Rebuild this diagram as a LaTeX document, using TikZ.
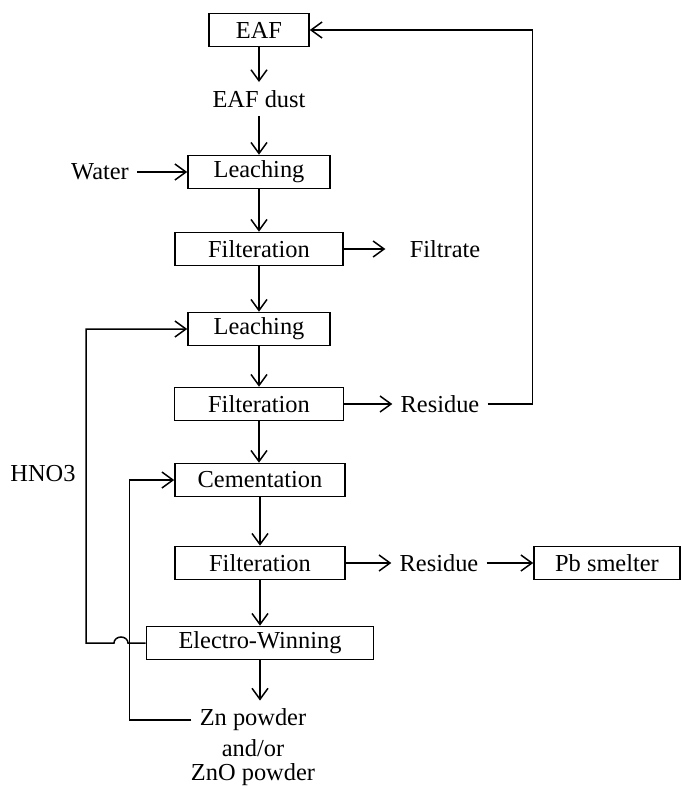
\documentclass[tikz,border=0pt]{standalone}
\usepackage{fontspec}
\setmainfont{Liberation Serif}
\usetikzlibrary{arrows.meta}

\tikzset{
  unit/.style={draw, line width=0.8pt, inner sep=0pt, minimum height=16.5pt},
  lbl/.style={inner sep=4pt},
  flow/.style={line width=0.75pt, -{Straight Barb[length=5.5pt,width=8pt]}}
}

\begin{document}
\begin{tikzpicture}[x=0.5pt,y=-0.5pt,font=\fontsize{12.2}{14}\selectfont]
\useasboundingbox (0,0) rectangle (681,789);

\node[unit,minimum width=50pt] (eaf) at (259,30) {EAF};
\node[lbl] (dust) at (259,99) {EAF dust};
\node[unit,minimum width=71pt] (leach1) at (259,172) {Leaching};
\node[lbl] (water) at (100,172) {Water};
\node[unit,minimum width=84pt] (filt1) at (259,249) {Filteration};
\node[lbl] (filtrate) at (445,249) {Filtrate};
\node[unit,minimum width=71pt] (leach2) at (259,329) {Leaching};
\node[unit,minimum width=84.5pt] (filt2) at (259,404) {Filteration};
\node[lbl] (res1) at (440,404) {Residue};
\node[lbl] (hno) at (43,474) {HNO3};
\node[unit,minimum width=85pt] (cem) at (260,480) {Cementation};
\node[unit,minimum width=85pt] (filt3) at (260,563) {Filteration};
\node[lbl] (res2) at (439,563) {Residue};
\node[unit,minimum width=73pt] (pb) at (607,563) {Pb smelter};
\node[unit,minimum width=113.5pt] (ew) at (260,643) {Electro-Winning};
\node[lbl] (zn) at (253,720) {Zn powder};
\node[lbl] (andor) at (253,748) {and/or};
\node[lbl] (zno) at (253,775) {ZnO powder};

% main line
\draw[flow] (eaf) -- (dust);
\draw[flow] (dust) -- (leach1);
\draw[flow] (water) -- (leach1);
\draw[flow] (leach1) -- (filt1);
\draw[flow,shorten >=8pt] (filt1) -- (filtrate);
\draw[flow] (filt1) -- (leach2);
\draw[flow] (leach2) -- (filt2);
\draw[flow] (filt2) -- (res1);
\draw[flow] (filt2.south) -- (filt2.south |- cem.north);
\draw[flow] (cem) -- (filt3);
\draw[flow] (filt3) -- (res2);
\draw[flow] (res2) -- (pb);
\draw[flow] (filt3) -- (ew);
\draw[flow] (ew.south) -- (ew.south |- zn.north);

% recycle lines
\draw[flow] (res1.east) -- ++(45,0) |- (eaf.east);
\draw[flow] (zn.west) -- ++(-62,0) |- (cem.west);
\draw[flow] (ew.west) -- (128,643) arc[start angle=0,end angle=-180,x radius=7,y radius=6]
  -- (86,643) |- (leach2.west);
\end{tikzpicture}
\end{document}
